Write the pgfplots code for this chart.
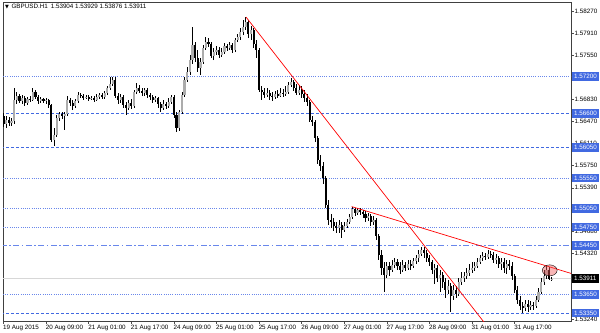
\documentclass[border=0pt]{standalone}
\usepackage{pgfplots}
\pgfplotsset{compat=1.18}
\usepackage{pgfplotstable}
\usepackage{fontspec}
\setmainfont{Liberation Sans}
\newfontfamily\dejavu{DejaVu Sans}
\definecolor{lvl}{RGB}{65,105,225}
\definecolor{lvldot}{RGB}{105,135,235}
\definecolor{bullc}{RGB}{172,172,172}
\definecolor{bidc}{RGB}{215,215,215}
\definecolor{hil}{RGB}{240,90,90}
\newcommand\lbl{\fontsize{6.3}{7.5}\selectfont}
\tikzset{lvlbox/.style={anchor=west, fill=lvl, text=white, font=\lbl, inner xsep=2.3bp, inner ysep=0pt, minimum height=8.5bp, xshift=0.6bp}}

\pgfplotstableread{
i o h l c
0 1.56561 1.56609 1.56381 1.56430
1 1.56430 1.56561 1.56365 1.56495
2 1.56495 1.56544 1.56398 1.56447
3 1.56447 1.56528 1.56398 1.56479
4 1.56479 1.57016 1.56430 1.56821
5 1.56821 1.56951 1.56756 1.56886
6 1.56886 1.56919 1.56772 1.56805
7 1.56805 1.56902 1.56756 1.56854
8 1.56854 1.56886 1.56723 1.56772
9 1.56772 1.56870 1.56740 1.56837
10 1.56837 1.56886 1.56788 1.56821
11 1.56821 1.57016 1.56805 1.56951
12 1.56951 1.56984 1.56837 1.56870
13 1.56870 1.56902 1.56756 1.56805
14 1.56805 1.56870 1.56772 1.56837
15 1.56837 1.56854 1.56772 1.56805
16 1.56805 1.56854 1.56756 1.56821
17 1.56821 1.56837 1.56691 1.56740
18 1.56740 1.56756 1.56137 1.56170
19 1.56170 1.56365 1.56072 1.56251
20 1.56251 1.56577 1.56219 1.56528
21 1.56528 1.56626 1.56479 1.56593
22 1.56593 1.56626 1.56512 1.56561
23 1.56561 1.56626 1.56333 1.56593
24 1.56593 1.56886 1.56561 1.56821
25 1.56821 1.56854 1.56723 1.56772
26 1.56772 1.56821 1.56658 1.56723
27 1.56723 1.56837 1.56691 1.56805
28 1.56805 1.56951 1.56772 1.56902
29 1.56902 1.56935 1.56854 1.56886
30 1.56886 1.56919 1.56821 1.56854
31 1.56854 1.56902 1.56837 1.56870
32 1.56870 1.56902 1.56805 1.56837
33 1.56837 1.56886 1.56821 1.56854
34 1.56854 1.56886 1.56788 1.56821
35 1.56821 1.56919 1.56805 1.56870
36 1.56870 1.56935 1.56837 1.56902
37 1.56902 1.56935 1.56837 1.56870
38 1.56870 1.56968 1.56837 1.56935
39 1.56935 1.57049 1.56902 1.57016
40 1.57016 1.57195 1.56984 1.57082
41 1.57082 1.57195 1.57049 1.57147
42 1.57147 1.57195 1.56854 1.56886
43 1.56886 1.56935 1.56756 1.56821
44 1.56821 1.56919 1.56772 1.56870
45 1.56870 1.56902 1.56691 1.56740
46 1.56740 1.56788 1.56577 1.56691
47 1.56691 1.56821 1.56658 1.56772
48 1.56772 1.56837 1.56675 1.56723
49 1.56723 1.56984 1.56691 1.56951
50 1.56951 1.57098 1.56919 1.57016
51 1.57016 1.57065 1.56935 1.56968
52 1.56968 1.57016 1.56886 1.56935
53 1.56935 1.57016 1.56886 1.56984
54 1.56984 1.57016 1.56854 1.56902
55 1.56902 1.56935 1.56821 1.56870
56 1.56870 1.56902 1.56772 1.56821
57 1.56821 1.56886 1.56788 1.56854
58 1.56854 1.56870 1.56691 1.56756
59 1.56756 1.56788 1.56626 1.56691
60 1.56691 1.56821 1.56658 1.56756
61 1.56756 1.56788 1.56675 1.56723
62 1.56723 1.56854 1.56691 1.56788
63 1.56788 1.56902 1.56756 1.56870
64 1.56870 1.56902 1.56528 1.56577
65 1.56577 1.56626 1.56300 1.56365
66 1.56365 1.56658 1.56316 1.56626
67 1.56626 1.56951 1.56593 1.56902
68 1.56902 1.57195 1.56870 1.57147
69 1.57147 1.57358 1.57114 1.57277
70 1.57277 1.57554 1.57228 1.57472
71 1.57472 1.58009 1.57407 1.57716
72 1.57716 1.57765 1.57440 1.57505
73 1.57505 1.57635 1.57277 1.57342
74 1.57342 1.57505 1.57228 1.57440
75 1.57440 1.57716 1.57407 1.57668
76 1.57668 1.57847 1.57635 1.57765
77 1.57765 1.57830 1.57684 1.57733
78 1.57733 1.57765 1.57505 1.57537
79 1.57537 1.57668 1.57472 1.57602
80 1.57602 1.57700 1.57554 1.57635
81 1.57635 1.57684 1.57505 1.57554
82 1.57554 1.57668 1.57521 1.57602
83 1.57602 1.57749 1.57570 1.57700
84 1.57700 1.57733 1.57619 1.57668
85 1.57668 1.57765 1.57635 1.57716
86 1.57716 1.57749 1.57586 1.57635
87 1.57635 1.57830 1.57602 1.57798
88 1.57798 1.57896 1.57765 1.57847
89 1.57847 1.57993 1.57798 1.57928
90 1.57928 1.58123 1.57879 1.58009
91 1.58009 1.58172 1.57961 1.58091
92 1.58091 1.58123 1.57830 1.57896
93 1.57896 1.58026 1.57798 1.57961
94 1.57961 1.57993 1.57668 1.57733
95 1.57733 1.57798 1.57505 1.57635
96 1.57635 1.57668 1.56951 1.56984
97 1.56984 1.57049 1.56821 1.56951
98 1.56951 1.57016 1.56854 1.56902
99 1.56902 1.57016 1.56870 1.56935
100 1.56935 1.56984 1.56821 1.56886
101 1.56886 1.56951 1.56805 1.56870
102 1.56870 1.56968 1.56837 1.56919
103 1.56919 1.56984 1.56854 1.56886
104 1.56886 1.57016 1.56870 1.56935
105 1.56935 1.57000 1.56870 1.56919
106 1.56919 1.57049 1.56886 1.56951
107 1.56951 1.57114 1.56919 1.57065
108 1.57065 1.57179 1.57033 1.57114
109 1.57114 1.57147 1.56968 1.57016
110 1.57016 1.57082 1.56902 1.56935
111 1.56935 1.57065 1.56902 1.56984
112 1.56984 1.57049 1.56854 1.56919
113 1.56919 1.56984 1.56788 1.56854
114 1.56854 1.56919 1.56723 1.56788
115 1.56788 1.56821 1.56463 1.56495
116 1.56495 1.56561 1.56398 1.56463
117 1.56463 1.56495 1.56137 1.56202
118 1.56202 1.56235 1.55779 1.55844
119 1.55844 1.55926 1.55665 1.55747
120 1.55747 1.55812 1.55454 1.55551
121 1.55551 1.55584 1.55063 1.55112
122 1.55112 1.55193 1.54786 1.54867
123 1.54867 1.54965 1.54737 1.54835
124 1.54835 1.54900 1.54688 1.54770
125 1.54770 1.54835 1.54656 1.54737
126 1.54737 1.54867 1.54656 1.54786
127 1.54786 1.54835 1.54574 1.54705
128 1.54705 1.54835 1.54672 1.54770
129 1.54770 1.54884 1.54737 1.54835
130 1.54835 1.54965 1.54802 1.54916
131 1.54916 1.55079 1.54884 1.55047
132 1.55047 1.55063 1.54933 1.54981
133 1.54981 1.55063 1.54949 1.55030
134 1.55030 1.55063 1.54949 1.54998
135 1.54998 1.55030 1.54900 1.54965
136 1.54965 1.55014 1.54835 1.54900
137 1.54900 1.54981 1.54851 1.54933
138 1.54933 1.54965 1.54770 1.54835
139 1.54835 1.54933 1.54786 1.54867
140 1.54867 1.54900 1.54542 1.54607
141 1.54607 1.54640 1.54216 1.54298
142 1.54298 1.54379 1.53972 1.54086
143 1.54086 1.54184 1.53695 1.53972
144 1.53972 1.54184 1.53923 1.54119
145 1.54119 1.54184 1.53956 1.54053
146 1.54053 1.54216 1.54021 1.54135
147 1.54135 1.54249 1.54086 1.54184
148 1.54184 1.54233 1.54053 1.54119
149 1.54119 1.54184 1.53988 1.54053
150 1.54053 1.54216 1.54021 1.54135
151 1.54135 1.54184 1.54037 1.54086
152 1.54086 1.54216 1.54053 1.54151
153 1.54151 1.54216 1.54053 1.54119
154 1.54119 1.54249 1.54086 1.54200
155 1.54200 1.54298 1.54151 1.54249
156 1.54249 1.54379 1.54184 1.54314
157 1.54314 1.54428 1.54281 1.54379
158 1.54379 1.54428 1.54249 1.54330
159 1.54330 1.54379 1.54184 1.54249
160 1.54249 1.54298 1.54119 1.54184
161 1.54184 1.54216 1.53988 1.54053
162 1.54053 1.54151 1.53826 1.54086
163 1.54086 1.54135 1.53858 1.53923
164 1.53923 1.54053 1.53695 1.53972
165 1.53972 1.54021 1.53760 1.53858
166 1.53858 1.53923 1.53598 1.53728
167 1.53728 1.53891 1.53663 1.53793
168 1.53793 1.53842 1.53370 1.53630
169 1.53630 1.53809 1.53565 1.53728
170 1.53728 1.53793 1.53598 1.53663
171 1.53663 1.53923 1.53630 1.53858
172 1.53858 1.54021 1.53809 1.53923
173 1.53923 1.54021 1.53858 1.53956
174 1.53956 1.54086 1.53907 1.54005
175 1.54005 1.54151 1.53956 1.54053
176 1.54053 1.54184 1.54005 1.54086
177 1.54086 1.54184 1.54037 1.54119
178 1.54119 1.54249 1.54086 1.54184
179 1.54184 1.54298 1.54151 1.54249
180 1.54249 1.54346 1.54200 1.54281
181 1.54281 1.54330 1.54216 1.54265
182 1.54265 1.54379 1.54233 1.54314
183 1.54314 1.54363 1.54249 1.54298
184 1.54298 1.54346 1.54167 1.54216
185 1.54216 1.54314 1.54151 1.54249
186 1.54249 1.54281 1.54086 1.54151
187 1.54151 1.54249 1.54053 1.54184
188 1.54184 1.54249 1.54005 1.54086
189 1.54086 1.54216 1.53988 1.54151
190 1.54151 1.54216 1.54053 1.54119
191 1.54119 1.54184 1.53891 1.53956
192 1.53956 1.53988 1.53679 1.53728
193 1.53728 1.53793 1.53500 1.53565
194 1.53565 1.53630 1.53402 1.53467
195 1.53467 1.53532 1.53353 1.53435
196 1.53435 1.53565 1.53386 1.53500
197 1.53500 1.53565 1.53370 1.53451
198 1.53451 1.53549 1.53402 1.53484
199 1.53484 1.53532 1.53402 1.53467
200 1.53467 1.53630 1.53435 1.53565
201 1.53565 1.53760 1.53532 1.53695
202 1.53695 1.53923 1.53663 1.53858
203 1.53858 1.54053 1.53809 1.53956
204 1.53956 1.54119 1.53907 1.54053
205 1.54053 1.54102 1.53891 1.53904
206 1.53904 1.53929 1.53876 1.53911
}\candles

\begin{document}
\begin{tikzpicture}
\begin{axis}[
  name=ax, at={(0,0)}, anchor=south west,
  scale only axis, width=568bp, height=319bp,
  xmin=-0.2, xmax=213.2, ymin=1.53220, ymax=1.58417,
  axis line style={draw=black!75, line width=0.8bp},
  clip mode=individual,
  xtick={0,16,32,48,64,80,96,112,128,144,160,176,192},
  xticklabels={19 Aug 2015,20 Aug 09:00,21 Aug 01:00,21 Aug 17:00,24 Aug 09:00,25 Aug 01:00,25 Aug 17:00,26 Aug 09:00,27 Aug 01:00,27 Aug 17:00,28 Aug 09:00,31 Aug 01:00,31 Aug 17:00},
  ytick={1.5827,1.5791,1.5755,1.5683,1.5647,1.5611,1.5575,1.5539,1.5468,1.5432,1.5360,1.5324},
  yticklabels={1.58270,1.57910,1.57550,1.56830,1.56470,1.56110,1.55750,1.55390,1.54680,1.54320,1.53600,1.53240},
  xtick pos=bottom, ytick pos=right, yticklabel pos=right,
  tick align=outside, major tick length=2.5bp,
  tick style={draw=black!70, line width=0.6bp},
  xticklabel style={anchor=north west, font=\lbl, inner sep=0pt, xshift=-0.5bp, yshift=-1.5bp},
  yticklabel style={anchor=west, font=\lbl, inner sep=0pt, xshift=1bp},
  after end axis/.code={
    \node[lvlbox] at (axis cs:213.2,1.57200) {1.57200};
    \node[lvlbox] at (axis cs:213.2,1.56600) {1.56600};
    \node[lvlbox] at (axis cs:213.2,1.56050) {1.56050};
    \node[lvlbox] at (axis cs:213.2,1.55550) {1.55550};
    \node[lvlbox] at (axis cs:213.2,1.55050) {1.55050};
    \node[lvlbox] at (axis cs:213.2,1.54750) {1.54750};
    \node[lvlbox] at (axis cs:213.2,1.54450) {1.54450};
    \node[lvlbox] at (axis cs:213.2,1.53650) {1.53650};
    \node[lvlbox] at (axis cs:213.2,1.53350) {1.53350};
    \node[lvlbox, fill=black] at (axis cs:213.2,1.53911) {1.53911};
  },
]
% bid line
\addplot[forget plot, bidc, line width=1.4bp] coordinates {(-1,1.53911) (215,1.53911)};
% level lines
\addplot[forget plot, lvldot, line width=0.8bp, dash pattern=on 1bp off 1.2bp] coordinates {(-1,1.57200) (215,1.57200)};
\addplot[forget plot, lvl, line width=0.8bp, dash pattern=on 3bp off 2bp] coordinates {(-1,1.56600) (215,1.56600)};
\addplot[forget plot, lvl, line width=0.8bp, dash pattern=on 3bp off 2bp] coordinates {(-1,1.56050) (215,1.56050)};
\addplot[forget plot, lvldot, line width=0.8bp, dash pattern=on 1bp off 1.2bp] coordinates {(-1,1.55550) (215,1.55550)};
\addplot[forget plot, lvldot, line width=0.8bp, dash pattern=on 1bp off 1.2bp] coordinates {(-1,1.55050) (215,1.55050)};
\addplot[forget plot, lvldot, line width=0.8bp, dash pattern=on 1bp off 1.2bp] coordinates {(-1,1.54750) (215,1.54750)};
\addplot[forget plot, lvldot, line width=0.8bp, dash pattern=on 6bp off 2.5bp on 1.5bp off 2.5bp] coordinates {(-1,1.54450) (215,1.54450)};
\addplot[forget plot, lvldot, line width=0.8bp, dash pattern=on 1bp off 1.2bp] coordinates {(-1,1.53650) (215,1.53650)};
\addplot[forget plot, lvl, line width=0.8bp, dash pattern=on 3bp off 2bp] coordinates {(-1,1.53350) (215,1.53350)};
% wicks
\addplot[forget plot, draw=none, mark=none, error bars/.cd, y dir=plus, y explicit, error mark=none,
  error bar style={draw=black, solid, line width=0.7bp}]
  table[x=i, y=l, y error plus expr={\thisrow{h}-\thisrow{l}}] {\candles};
% bear bodies
\addplot[forget plot, draw=none, mark=none, error bars/.cd, y dir=plus, y explicit, error mark=none,
  error bar style={draw=black, solid, line width=2.1bp}]
  table[x=i, y=c, y error plus expr={max(\thisrow{o}-\thisrow{c},0)}] {\candles};
% bull bodies
\addplot[forget plot, draw=none, mark=none, error bars/.cd, y dir=plus, y explicit, error mark=none,
  error bar style={draw=bullc, solid, line width=2.1bp}]
  table[x=i, y=o, y error plus expr={max(\thisrow{c}-\thisrow{o},0)}] {\candles};
% trend lines
\addplot[forget plot, red, line width=0.7bp] coordinates {(91.1,1.58172) (185,1.52951)};
\addplot[forget plot, red, line width=0.7bp] coordinates {(130.8,1.55084) (214,1.53985)};
% highlight
\addplot[forget plot, only marks, mark=*, mark size=5.5bp, mark options={fill=hil, draw=none, fill opacity=0.45, xscale=1.35}] coordinates {(205.2,1.54045)};
\end{axis}
\node[anchor=west, font=\lbl, inner sep=0pt] at ([shift={(2bp,-5bp)}]ax.north west) {{\dejavu\fontsize{5}{6}\selectfont\char"25BC}\hspace{2.5bp}GBPUSD.H1\hspace{3bp}1.53904 1.53929 1.53876 1.53911};
\pgfresetboundingbox
\path ([shift={(-3bp,-12bp)}]ax.south west) rectangle ([shift={(29bp,2bp)}]ax.north east);
\end{tikzpicture}
\end{document}
